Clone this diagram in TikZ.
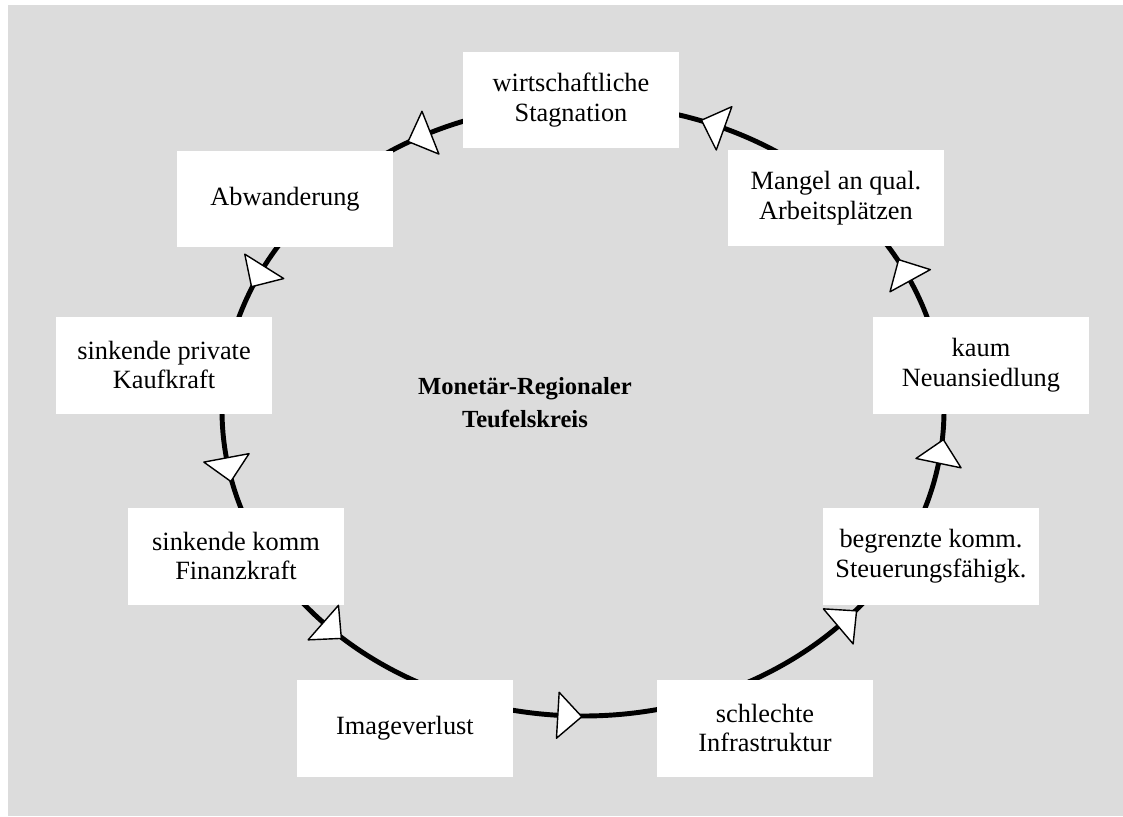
\documentclass[tikz,border=0pt]{standalone}
\usepackage{fontspec}
\setmainfont{Liberation Serif}
\usetikzlibrary{positioning}
\definecolor{mygray}{RGB}{220,220,220}
\tikzset{cause/.style={fill=white,align=center,minimum width=4.34cm,minimum height=1.94cm,font=\fontsize{15}{17}\selectfont}}
\tikzset{tri/.style={fill=white,draw=black,line width=0.8pt,line join=round}}

\begin{document}
\begin{tikzpicture}[x=0.02cm,y=-0.02cm]

% page and background
\useasboundingbox (0,0) rectangle (1123,816);
\fill[mygray] (8,5) rectangle (1123,816);

% the circle
\draw[line width=2.8pt] (583,410) ellipse [x radius=361, y radius=306];

\node[cause] (stag) at (571,100) {wirtschaftliche\\Stagnation};
\node[cause] (mangel) at (836,198) {Mangel an qual.\\Arbeitsplätzen};
\node[cause] (kaum) at (981,365) {kaum\\Neuansiedlung};
\node[cause] (begr) at (931,556) {begrenzte komm.\\Steuerungsfähigk.};
\node[cause] (infra) at (765,728) {schlechte\\Infrastruktur};
\node[cause] (image) at (405,728) {Imageverlust};
\node[cause] (finanz) at (236,556) {sinkende komm\\Finanzkraft};
\node[cause] (kauf) at (164,365) {sinkende private\\Kaufkraft};
\node[cause] (abw) at (285,199) {Abwanderung};

\node[align=center,font=\bfseries\fontsize{14}{18.7}\selectfont] (title) at (525,403) {Monetär-Regionaler\\Teufelskreis};

% arrow heads on the circle
\foreach \t in {245,208,171,136,94,45,10,-25,-67} {
  \pgfmathsetmacro{\ang}{atan2(306*cos(\t),361*sin(\t))}
  \begin{scope}[shift={({583+361*cos(\t)},{410+306*sin(\t)})},rotate=\ang]
    \draw[tri] (24,0) -- (0,23) -- (0,-23) -- cycle;
  \end{scope}
}

\end{tikzpicture}
\end{document}
